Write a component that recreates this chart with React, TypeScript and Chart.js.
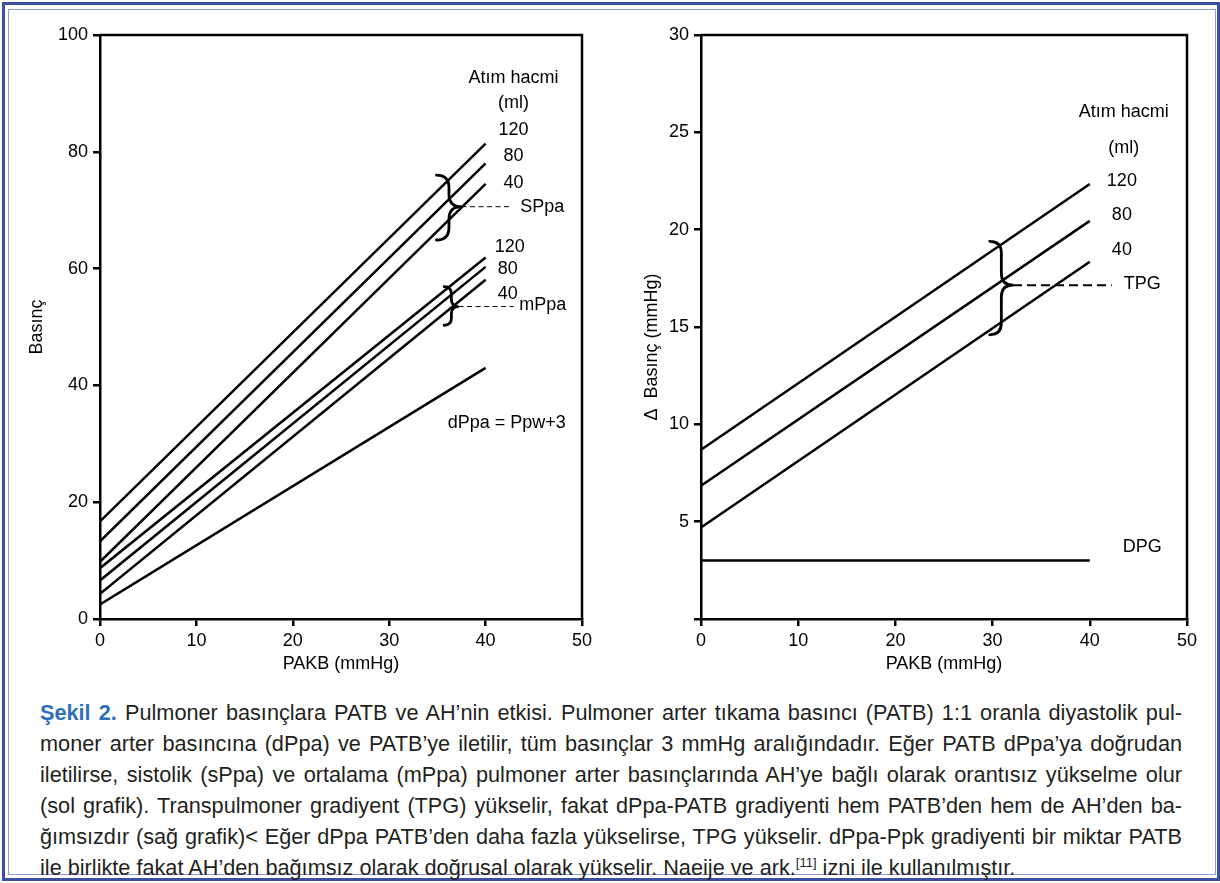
import React, { useEffect, useRef } from 'react';
import { Chart, registerables } from 'chart.js';

Chart.register(...registerables);

// ---------- data ----------
const pakb = [0, 40];

// left chart (Basınç)
const sPpa120 = [16.7, 81.4];
const sPpa80 = [13.3, 78.0];
const sPpa40 = [9.8, 74.5];
const mPpa120 = [8.7, 61.9];
const mPpa80 = [6.6, 60.3];
const mPpa40 = [4.3, 58.1];
const dPpaLine = [2.5, 43];

// right chart (Δ Basınç)
const tpg120 = [8.7, 22.35];
const tpg80 = [6.85, 20.45];
const tpg40 = [4.7, 18.35];
const dpgLine = [3, 3];

const leftXTicks = [0, 10, 20, 30, 40, 50];
const leftYTicks = [0, 20, 40, 60, 80, 100];
const rightYTicks = [0, 5, 10, 15, 20, 25, 30];

const FONT = '"Liberation Sans", Arial, Helvetica, sans-serif';
const CHART_FONT_SIZE = 18;

type TextAnn = { text: string; x: number; y: number; align: CanvasTextAlign };
type BraceAnn = { xBack: number; xTip: number; yTop: number; yMid: number; yBottom: number };
type DashAnn = { x1: number; x2: number; y: number; width: number; dash: number[] };

const leftTexts: TextAnn[] = [
  { text: 'Atım hacmi', x: 42.9, y: 92.6, align: 'center' },
  { text: '(ml)', x: 42.9, y: 88.4, align: 'center' },
  { text: '120', x: 42.9, y: 83.7, align: 'center' },
  { text: '80', x: 42.9, y: 79.2, align: 'center' },
  { text: '40', x: 42.9, y: 74.7, align: 'center' },
  { text: 'SPpa', x: 43.6, y: 70.6, align: 'left' },
  { text: '120', x: 42.5, y: 63.7, align: 'center' },
  { text: '80', x: 42.3, y: 59.9, align: 'center' },
  { text: '40', x: 42.3, y: 55.7, align: 'center' },
  { text: 'mPpa', x: 43.5, y: 53.7, align: 'left' },
  { text: 'dPpa = Ppw+3', x: 42.2, y: 33.5, align: 'center' },
];
const leftBraces: BraceAnn[] = [
  { xBack: 34.9, xTip: 37.5, yTop: 76, yMid: 70.6, yBottom: 64.9 },
  { xBack: 35.7, xTip: 37.2, yTop: 56.9, yMid: 53.5, yBottom: 50.3 },
];
const leftDashes: DashAnn[] = [
  { x1: 37.5, x2: 42.7, y: 70.6, width: 1, dash: [5, 3.5] },
  { x1: 37.2, x2: 42.9, y: 53.5, width: 1, dash: [5, 3.5] },
];

const rightTexts: TextAnn[] = [
  { text: 'Atım hacmi', x: 43.5, y: 26.06, align: 'center' },
  { text: '(ml)', x: 43.5, y: 24.2, align: 'center' },
  { text: '120', x: 43.3, y: 22.5, align: 'center' },
  { text: '80', x: 43.3, y: 20.75, align: 'center' },
  { text: '40', x: 43.3, y: 18.95, align: 'center' },
  { text: 'TPG', x: 43.5, y: 17.2, align: 'left' },
  { text: 'DPG', x: 45.4, y: 3.68, align: 'center' },
];
const rightBraces: BraceAnn[] = [
  { xBack: 29.7, xTip: 32.1, yTop: 19.4, yMid: 17.15, yBottom: 14.6 },
];
const rightDashes: DashAnn[] = [
  { x1: 32.1, x2: 42.25, y: 17.15, width: 2, dash: [9, 5] },
];

const captionLines: string[] = [
  'Pulmoner basınçlara PATB ve AH’nin etkisi. Pulmoner arter tıkama basıncı (PATB) 1:1 oranla diyastolik pul-',
  'moner arter basıncına (dPpa) ve PATB’ye iletilir, tüm basınçlar 3 mmHg aralığındadır. Eğer PATB dPpa’ya doğrudan',
  'iletilirse, sistolik (sPpa) ve ortalama (mPpa) pulmoner arter basınçlarında AH’ye bağlı olarak orantısız yükselme olur',
  '(sol grafik). Transpulmoner gradiyent (TPG) yükselir, fakat dPpa-PATB gradiyenti hem PATB’den hem de AH’den ba-',
  'ğımsızdır (sağ grafik)< Eğer dPpa PATB’den daha fazla yükselirse, TPG yükselir. dPpa-Ppk gradiyenti bir miktar PATB',
];

// ---------- helpers ----------
const toPoints = (ys: number[]) => pakb.map((x, i) => ({ x, y: ys[i] }));

const lineDs = (ys: number[]) => ({
  data: toPoints(ys),
  borderColor: '#000',
  borderWidth: 2.5,
  pointRadius: 0,
  fill: false,
  tension: 0,
});

function annotationPlugin(texts: TextAnn[], braces: BraceAnn[], dashes: DashAnn[]) {
  return {
    id: 'annotations',
    afterDatasetsDraw(chart: any) {
      const { ctx, chartArea } = chart;
      const xs = chart.scales.x;
      const ys = chart.scales.y;
      ctx.save();
      // frame (top + right)
      ctx.strokeStyle = '#000';
      ctx.lineWidth = 2.5;
      ctx.setLineDash([]);
      ctx.beginPath();
      ctx.moveTo(chartArea.left, chartArea.top);
      ctx.lineTo(chartArea.right, chartArea.top);
      ctx.lineTo(chartArea.right, chartArea.bottom);
      ctx.stroke();

      // dashes
      dashes.forEach((d) => {
        ctx.lineWidth = d.width;
        ctx.setLineDash(d.dash);
        ctx.beginPath();
        const py = ys.getPixelForValue(d.y);
        ctx.moveTo(xs.getPixelForValue(d.x1), py);
        ctx.lineTo(xs.getPixelForValue(d.x2), py);
        ctx.stroke();
      });
      ctx.setLineDash([]);

      // braces
      braces.forEach((b) => {
        const xb = xs.getPixelForValue(b.xBack);
        const xt = xs.getPixelForValue(b.xTip);
        const yt = ys.getPixelForValue(b.yTop);
        const ym = ys.getPixelForValue(b.yMid);
        const yb = ys.getPixelForValue(b.yBottom);
        const sp = (xb + xt) / 2;
        const r = Math.min((xt - xb) / 2, (ym - yt) / 2.5, (yb - ym) / 2.5);
        ctx.lineWidth = 2.8;
        ctx.lineCap = 'round';
        ctx.beginPath();
        ctx.moveTo(xb, yt);
        ctx.quadraticCurveTo(sp, yt, sp, yt + r);
        ctx.lineTo(sp, ym - r);
        ctx.quadraticCurveTo(sp, ym, xt, ym);
        ctx.quadraticCurveTo(sp, ym, sp, ym + r);
        ctx.lineTo(sp, yb - r);
        ctx.quadraticCurveTo(sp, yb, xb, yb);
        ctx.stroke();
      });

      // texts
      ctx.fillStyle = '#000';
      ctx.font = `${CHART_FONT_SIZE}px ${FONT}`;
      ctx.textBaseline = 'middle';
      texts.forEach((t) => {
        ctx.textAlign = t.align;
        ctx.fillText(t.text, xs.getPixelForValue(t.x), ys.getPixelForValue(t.y));
      });
      ctx.restore();
    },
  };
}

function axisOptions(
  min: number,
  max: number,
  title: string,
  titlePadding: any,
  fitSize: number,
  isX: boolean,
  tickValues: number[],
  hideZero: boolean
) {
  return {
    type: 'linear',
    min,
    max,
    afterBuildTicks: (scale: any) => {
      scale.ticks = tickValues.map((v) => ({ value: v }));
    },
    afterFit: (scale: any) => {
      if (isX) scale.height = fitSize;
      else scale.width = fitSize;
    },
    ticks: {
      color: '#000',
      font: { family: FONT, size: CHART_FONT_SIZE },
      padding: isX ? 4 : 5,
      maxRotation: 0,
      autoSkip: false,
      callback: (v: any) => (hideZero && v === 0 ? '' : String(v)),
    },
    grid: {
      display: true,
      drawOnChartArea: false,
      drawTicks: true,
      tickLength: 7,
      color: '#000',
      lineWidth: 2.5,
    },
    border: { display: true, color: '#000', width: 2.5 },
    title: {
      display: true,
      text: title,
      color: '#000',
      font: { family: FONT, size: CHART_FONT_SIZE },
      padding: titlePadding,
    },
  };
}

function ChartCanvas(props: { config: any; width: number; height: number; left: number; top: number }) {
  const ref = useRef<HTMLCanvasElement | null>(null);
  useEffect(() => {
    if (!ref.current) return;
    const chart = new Chart(ref.current, props.config);
    return () => chart.destroy();
  }, []);
  return (
    <canvas
      ref={ref}
      width={props.width}
      height={props.height}
      style={{
        position: 'absolute',
        left: props.left,
        top: props.top,
        width: props.width,
        height: props.height,
      }}
    />
  );
}

const leftConfig = {
  type: 'line',
  data: {
    datasets: [sPpa120, sPpa80, sPpa40, mPpa120, mPpa80, mPpa40, dPpaLine].map(lineDs),
  },
  options: {
    animation: false,
    responsive: false,
    devicePixelRatio: 1,
    layout: { padding: { top: 35, right: 28, bottom: 0, left: 0 } },
    plugins: { legend: { display: false }, tooltip: { enabled: false } },
    scales: {
      x: axisOptions(0, 50, 'PAKB (mmHg)', { top: 0, bottom: 5 }, 61, true, leftXTicks, false),
      y: axisOptions(0, 100, 'Basınç', { top: 26, bottom: 0 }, 100, false, leftYTicks, false),
    },
  },
  plugins: [annotationPlugin(leftTexts, leftBraces, leftDashes)],
};

const rightConfig = {
  type: 'line',
  data: {
    datasets: [tpg120, tpg80, tpg40, dpgLine].map(lineDs),
  },
  options: {
    animation: false,
    responsive: false,
    devicePixelRatio: 1,
    layout: { padding: { top: 35, right: 33, bottom: 0, left: 0 } },
    plugins: { legend: { display: false }, tooltip: { enabled: false } },
    scales: {
      x: axisOptions(0, 50, 'PAKB (mmHg)', { top: 0, bottom: 5 }, 61, true, leftXTicks, false),
      y: axisOptions(
        0,
        30,
        'Δ  Basınç (mmHg)        ',
        { top: 31, bottom: 0 },
        91,
        false,
        rightYTicks,
        true
      ),
    },
  },
  plugins: [annotationPlugin(rightTexts, rightBraces, rightDashes)],
};

export default function App() {
  const lineStyle: React.CSSProperties = {
    textAlign: 'justify',
    textAlignLast: 'justify' as any,
    height: 31,
    lineHeight: '31px',
    whiteSpace: 'nowrap',
  };
  return (
    <div
      style={{
        position: 'absolute',
        left: 0,
        top: 0,
        width: 1220,
        height: 883,
        background: '#fff',
        overflow: 'hidden',
        fontFamily: FONT,
      }}
    >
      <div
        style={{
          position: 'absolute',
          left: 2,
          top: 2,
          right: 0,
          bottom: 2,
          border: '3px solid #3b4ea3',
        }}
      />
      <div
        style={{
          position: 'absolute',
          left: 8,
          top: 9,
          right: 4,
          bottom: 8,
          border: '1px solid #8c9dd4',
        }}
      />
      <ChartCanvas config={leftConfig} width={610} height={680} left={0} top={0} />
      <ChartCanvas config={rightConfig} width={610} height={680} left={610} top={0} />
      <div
        style={{
          position: 'absolute',
          left: 40,
          top: 697,
          width: 1142,
          fontSize: 21.7,
          color: '#231f20',
        }}
      >
        {captionLines.map((line, i) => (
          <div key={i} style={lineStyle}>
            {i === 0 ? (
              <>
                <span style={{ color: '#2f6fb6', fontWeight: 'bold' }}>Şekil 2.</span> {line}
              </>
            ) : (
              line
            )}
          </div>
        ))}
        <div style={{ height: 31, lineHeight: '31px', textAlign: 'left', whiteSpace: 'nowrap' }}>
          ile birlikte fakat AH’den bağımsız olarak doğrusal olarak yükselir. Naeije ve ark.
          <sup style={{ fontSize: 13, lineHeight: 0 }}>[11]</sup> izni ile kullanılmıştır.
        </div>
      </div>
    </div>
  );
}
